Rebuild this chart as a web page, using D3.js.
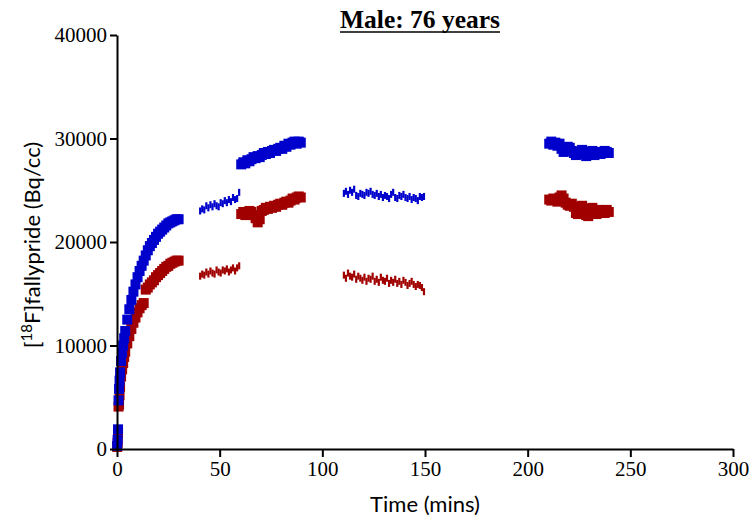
<!DOCTYPE html>
<html>
<head>
<meta charset="utf-8">
<script src="https://cdn.jsdelivr.net/npm/d3@7/dist/d3.min.js"></script>
<style>
  html, body { margin: 0; padding: 0; background: #fff; }
  svg { display: block; }
</style>
</head>
<body>
<svg id="chart" width="752" height="521"></svg>
<script>
// Time-activity data (minutes, Bq/cc) for the two regions, grouped by scan block.
const earlyTimes = [0.1, 0.3, 0.5, 0.75, 1, 1.25, 1.5, 2, 2.5, 3, 3.5, 4, 5, 6, 7, 8, 9, 10, 11, 12, 13, 14, 15, 16, 17, 18, 19, 20, 21, 22, 23, 24, 25, 26, 27, 28, 29, 30];
const earlyBlue = [300, 900, 1900, 4700, 5800, 6600, 7400, 8500, 9300, 10000, 10700, 11400, 12500, 13500, 14400, 15200, 15900, 16600, 17200, 17700, 18200, 18700, 19200, 19600, 19900, 20200, 20500, 20800, 21000, 21200, 21400, 21600, 21800, 21900, 22000, 22100, 22200, 22200];
const earlyRed = [200, 600, 1500, 4100, 4300, 5200, 6000, 7000, 7700, 8300, 8900, 9400, 10200, 10900, 11600, 12200, 12700, 13200, 13600, 13900, 14100, 15400, 15600, 15900, 16100, 16300, 16600, 16800, 17000, 17200, 17400, 17600, 17700, 17900, 18000, 18100, 18200, 18200];

const block2Times = d3.range(40.5, 60, 1);
const block2Blue = [23000, 23200, 23100, 23500, 23300, 23600, 23400, 23700, 23500, 23400, 23800, 23700, 24000, 23800, 24100, 23900, 24300, 24100, 24200, 24800];
const block2Red = [16700, 16900, 16800, 17100, 16900, 17200, 17000, 16900, 17300, 17100, 17000, 17300, 17200, 17400, 17100, 17300, 17500, 17200, 17500, 17700];

const block3Times = d3.range(60.5, 90, 1);
const block3Blue = [27500, 27700, 27600, 27900, 27800, 28000, 28200, 28100, 28300, 28200, 28400, 28600, 28500, 28700, 28600, 28800, 28900, 28800, 29000, 29100, 29000, 29300, 29200, 29500, 29400, 29600, 29700, 29500, 29700, 29600];
const block3Red = [22700, 22900, 22600, 22800, 23000, 22900, 22600, 22300, 21900, 22200, 23000, 23100, 23300, 23200, 23400, 23300, 23500, 23400, 23600, 23700, 23600, 23800, 23900, 23800, 24000, 24200, 24100, 24300, 24400, 24300];

const block4Times = d3.range(110.5, 150, 1);
const block4Blue = [24700, 24900, 24600, 25000, 24800, 25100, 24500, 24400, 24700, 24600, 24500, 24800, 24700, 24900, 24600, 24500, 24700, 24400, 24600, 24300, 24500, 24400, 24200, 24600, 24800, 24300, 24200, 24500, 24400, 24600, 24300, 24200, 24400, 24100, 24300, 24200, 24000, 24400, 24300, 24400];
const block4Red = [16800, 16500, 17000, 16700, 16600, 16900, 16400, 16700, 16500, 16300, 16600, 16200, 16500, 16400, 16700, 16200, 16400, 16100, 16600, 16300, 16200, 16500, 16000, 16300, 16100, 16400, 16000, 16200, 15900, 16300, 16100, 15800, 16000, 16200, 15900, 15700, 15900, 15800, 15600, 15200];

const block5Times = d3.range(210.5, 240, 1);
const block5Blue = [29500, 29700, 29400, 29600, 29300, 29500, 29000, 28700, 28900, 29200, 29100, 28800, 28600, 28400, 28700, 28500, 28900, 28600, 28300, 28700, 28500, 28800, 28400, 28600, 28700, 28500, 28600, 28800, 28700, 28600];
const block5Red = [24100, 24000, 24200, 24100, 23900, 24300, 24500, 24200, 23800, 23600, 23500, 23700, 23400, 22800, 22700, 23100, 23500, 23200, 22600, 22500, 23000, 23300, 22900, 22700, 23100, 22900, 23000, 22800, 23100, 22900];

const xTicks = [0, 50, 100, 150, 200, 250, 300];
const yTicks = [0, 10000, 20000, 30000, 40000];

const titleText = "Male: 76 years";
const xTitle = "Time (mins)";

const BLUE = "#0000cc";
const RED = "#a00000";

const svg = d3.select("#chart");
const x = d3.scaleLinear().domain([0, 300]).range([117, 733]);
const y = d3.scaleLinear().domain([0, 40000]).range([449, 35]);

const serif = "'Liberation Serif', 'Times New Roman', serif";
const sans = "Lato, 'Open Sans', sans-serif";

// Marker blocks: big squares for the dense frames, thin dashes for the sparse ones
function drawBlock(times, values, color, w, h) {
  svg.append("g").selectAll("rect")
    .data(times.map((t, i) => [t, values[i]]))
    .join("rect")
    .attr("x", d => x(d[0]) - w / 2)
    .attr("y", d => y(d[1]) - h / 2)
    .attr("width", w)
    .attr("height", h)
    .attr("fill", color);
}

drawBlock(earlyTimes, earlyRed, RED, 10, 10);
drawBlock(earlyTimes, earlyBlue, BLUE, 10, 10);
drawBlock(block2Times, block2Blue, BLUE, 2.2, 7);
drawBlock(block2Times, block2Red, RED, 2.2, 7);
drawBlock(block3Times, block3Blue, BLUE, 10, 10);
drawBlock(block3Times, block3Red, RED, 10, 10);
drawBlock(block4Times, block4Blue, BLUE, 2.2, 7);
drawBlock(block4Times, block4Red, RED, 2.2, 7);
drawBlock(block5Times, block5Blue, BLUE, 10, 10);
drawBlock(block5Times, block5Red, RED, 10, 10);

// Axes
const gx = svg.append("g").attr("transform", `translate(0,${y(0)})`)
  .call(d3.axisBottom(x).tickValues(xTicks).tickSize(8).tickSizeOuter(0).tickPadding(4).tickFormat(d3.format("d")));
const gy = svg.append("g").attr("transform", `translate(${x(0)},0)`)
  .call(d3.axisLeft(y).tickValues(yTicks).tickSize(7).tickSizeOuter(0).tickPadding(3).tickFormat(d3.format("d")));

[gx, gy].forEach(g => {
  g.select(".domain").attr("stroke", "#000").attr("stroke-width", 2);
  g.selectAll(".tick line").attr("stroke", "#000").attr("stroke-width", 2);
  g.selectAll(".tick text").attr("fill", "#000").style("font-family", serif).style("font-size", "21px");
});

// Title with underline
const title = svg.append("text")
  .attr("x", 420).attr("y", 28)
  .attr("text-anchor", "middle")
  .style("font-family", serif).style("font-weight", "bold").style("font-size", "25.5px")
  .text(titleText);
const tw = title.node().getComputedTextLength();
svg.append("line")
  .attr("x1", 420 - tw / 2).attr("x2", 420 + tw / 2)
  .attr("y1", 32).attr("y2", 32)
  .attr("stroke", "#000").attr("stroke-width", 1.5);

// Axis titles
svg.append("text")
  .attr("x", 425).attr("y", 512)
  .attr("text-anchor", "middle")
  .style("font-family", sans).style("font-size", "22px")
  .text(xTitle);

const yt = svg.append("text")
  .attr("transform", "translate(40,245) rotate(-90)")
  .attr("text-anchor", "middle")
  .style("font-family", sans).style("font-size", "22px");
yt.append("tspan").text("[");
yt.append("tspan").attr("dy", -8).style("font-size", "15px").text("18");
yt.append("tspan").attr("dy", 8).text("F]fallypride (Bq/cc)");
</script>
</body>
</html>
